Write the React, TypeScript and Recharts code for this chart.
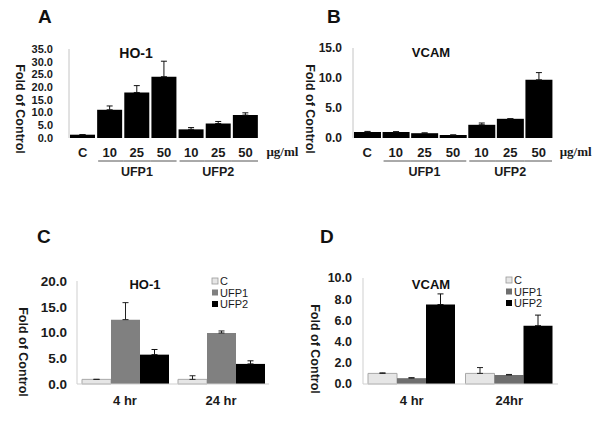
import React from 'react';
import { BarChart, Bar, XAxis, YAxis, ErrorBar } from 'recharts';

// ---------- data ----------
const doseIds = ['C', 'UFP1-10', 'UFP1-25', 'UFP1-50', 'UFP2-10', 'UFP2-25', 'UFP2-50'];
const doseLabels = ['C', '10', '25', '50', '10', '25', '50'];
const doseGroups = ['', 'UFP1', 'UFP1', 'UFP1', 'UFP2', 'UFP2', 'UFP2'];
const ho1DoseValues = [1.3, 11.1, 17.9, 24.1, 3.4, 5.7, 9.0];
const ho1DoseErrors = [0, 1.5, 2.7, 6.1, 0.7, 0.8, 0.9];
const vcamDoseValues = [1.0, 1.0, 0.8, 0.5, 2.2, 3.2, 9.7];
const vcamDoseErrors = [0.1, 0.05, 0.05, 0, 0.3, 0, 1.2];
const ho1DoseTicks = [0, 5, 10, 15, 20, 25, 30, 35];
const vcamDoseTicks = [0, 5, 10, 15];

const seriesNames = ['C', 'UFP1', 'UFP2'];
const timeLabelsC = ['4 hr', '24 hr'];
const timeLabelsD = ['4 hr', '24hr'];
const ho1TimeC = [0.9, 0.9];
const ho1TimeCErr = [0, 0.7];
const ho1TimeUFP1 = [12.5, 9.9];
const ho1TimeUFP1Err = [3.3, 0.4];
const ho1TimeUFP2 = [5.7, 3.9];
const ho1TimeUFP2Err = [1.0, 0.6];
const vcamTimeC = [1.0, 1.0];
const vcamTimeCErr = [0.05, 0.55];
const vcamTimeUFP1 = [0.55, 0.85];
const vcamTimeUFP1Err = [0.05, 0.05];
const vcamTimeUFP2 = [7.5, 5.5];
const vcamTimeUFP2Err = [1.0, 1.0];
const ho1TimeTicks = [0, 5, 10, 15, 20];
const vcamTimeTicks = [0, 2, 4, 6, 8, 10];

// ---------- build rows ----------
const ho1DoseRows = doseIds.map((id, i) => ({
  id, label: doseLabels[i], group: doseGroups[i],
  value: ho1DoseValues[i], err: [0, ho1DoseErrors[i]],
}));
const vcamDoseRows = doseIds.map((id, i) => ({
  id, label: doseLabels[i], group: doseGroups[i],
  value: vcamDoseValues[i], err: [0, vcamDoseErrors[i]],
}));
const ho1TimeRows = timeLabelsC.map((t, i) => ({
  time: t,
  C: ho1TimeC[i], CErr: [0, ho1TimeCErr[i]],
  UFP1: ho1TimeUFP1[i], UFP1Err: [0, ho1TimeUFP1Err[i]],
  UFP2: ho1TimeUFP2[i], UFP2Err: [0, ho1TimeUFP2Err[i]],
}));
const vcamTimeRows = timeLabelsD.map((t, i) => ({
  time: t,
  C: vcamTimeC[i], CErr: [0, vcamTimeCErr[i]],
  UFP1: vcamTimeUFP1[i], UFP1Err: [0, vcamTimeUFP1Err[i]],
  UFP2: vcamTimeUFP2[i], UFP2Err: [0, vcamTimeUFP2Err[i]],
}));

const SANS = 'Liberation Sans, Arial, sans-serif';
const SERIF = 'Liberation Serif, Times New Roman, serif';

const makeDoseTick = (rows: any[], band: number) => (props: any) => {
  const { x, y, payload } = props;
  const i = rows.findIndex((r) => r.id === payload.value);
  if (i < 0) return <g />;
  const row = rows[i];
  const prevSame = i > 0 && rows[i - 1].group === row.group;
  const nextSame = i < rows.length - 1 && rows[i + 1].group === row.group;
  const isMiddle = row.group && prevSame && nextSame;
  const half = band / 2;
  return (
    <g>
      <text x={x} y={y + 19} textAnchor="middle" fontFamily={SANS} fontWeight="bold" fontSize={13} fill="#1a1a1a">
        {row.label}
      </text>
      {row.group ? (
        <line x1={prevSame ? x - half : x - half + 2} x2={nextSame ? x + half : x + half - 1} y1={y + 23} y2={y + 23} stroke="#555" strokeWidth={1} />
      ) : null}
      {isMiddle ? (
        <text x={x} y={y + 38} textAnchor="middle" fontFamily={SANS} fontWeight="bold" fontSize={12.5} fill="#1a1a1a">
          {row.group}
        </text>
      ) : null}
      {i === rows.length - 1 ? (
        <text x={x + 21} y={y + 18} textAnchor="start" fontFamily={SERIF} fontWeight="bold" fontSize={13} fill="#1a1a1a">
          μg/ml
        </text>
      ) : null}
    </g>
  );
};

const DoseChart = ({ rows, ticks, max, left, yWidth, right, top, tickFont, tickMargin }: any) => {
  const width = 300;
  const height = 220;
  const bottom = 41;
  const band = (width - yWidth - right) / rows.length;
  return (
    <div style={{ position: 'absolute', left, top: 0, width, height }}>
      <BarChart width={width} height={height} data={rows} margin={{ top, right, bottom, left: 0 }} barCategoryGap={1}>
        <XAxis dataKey="id" axisLine={false} tickLine={false} tickSize={0} tickMargin={0} interval={0} tick={makeDoseTick(rows, band)} height={bottom} />
        <YAxis
          domain={[0, max]} ticks={ticks} width={yWidth} interval={0}
          tickFormatter={(v: number) => v.toFixed(1)}
          axisLine={{ stroke: '#c4c4c4' }} tickLine={false} tickSize={0} tickMargin={tickMargin}
          tick={{ fontSize: tickFont, fontWeight: 'bold', fill: '#1a1a1a', fontFamily: SANS }}
        />
        <Bar dataKey="value" fill="#000" isAnimationActive={false}>
          <ErrorBar dataKey="err" direction="y" width={3} stroke="#111" strokeWidth={1} />
        </Bar>
      </BarChart>
    </div>
  );
};

const TimeChart = ({ rows, ticks, max, left, yWidth, right, top, tickFont, tickMargin, ufp1Color }: any) => {
  const width = 300;
  const height = 222;
  const bottom = 29;
  return (
    <div style={{ position: 'absolute', left, top: 220, width, height }}>
      <BarChart width={width} height={height} data={rows} margin={{ top, right, bottom, left: 0 }} barCategoryGap={5} barGap={0}>
        <XAxis dataKey="time" axisLine={{ stroke: '#cfcfcf' }} tickLine={false} tickSize={0} tickMargin={12} interval={0} height={bottom}
          tick={{ fontSize: 13, fontWeight: 'bold', fill: '#1a1a1a', fontFamily: SANS }} />
        <YAxis
          domain={[0, max]} ticks={ticks} width={yWidth} interval={0}
          tickFormatter={(v: number) => v.toFixed(1)}
          axisLine={{ stroke: '#cfcfcf' }} tickLine={false} tickSize={0} tickMargin={tickMargin}
          tick={{ fontSize: tickFont, fontWeight: 'bold', fill: '#1a1a1a', fontFamily: SANS }}
        />
        <Bar dataKey="C" name={seriesNames[0]} fill="#e6e6e6" stroke="#a8a8a8" strokeWidth={1} isAnimationActive={false}>
          <ErrorBar dataKey="CErr" direction="y" width={3} stroke="#222" strokeWidth={1} />
        </Bar>
        <Bar dataKey="UFP1" name={seriesNames[1]} fill={ufp1Color} isAnimationActive={false}>
          <ErrorBar dataKey="UFP1Err" direction="y" width={3} stroke="#222" strokeWidth={1} />
        </Bar>
        <Bar dataKey="UFP2" name={seriesNames[2]} fill="#000" isAnimationActive={false}>
          <ErrorBar dataKey="UFP2Err" direction="y" width={3} stroke="#111" strokeWidth={1} />
        </Bar>
      </BarChart>
    </div>
  );
};

const legendFills = ['#e6e6e6', '#808080', '#000'];

const LegendBlock = ({ x, y, ufp1Color }: any) => (
  <g>
    {seriesNames.map((n, i) => (
      <g key={n}>
        <rect x={x} y={y + i * 11.5 - 3} width={6} height={6}
          fill={i === 1 ? ufp1Color : legendFills[i]} stroke={i === 0 ? '#999' : 'none'} strokeWidth={0.8} />
        <text x={x + 8} y={y + i * 11.5 + 4} fontFamily={SANS} fontSize={11} fill="#1a1a1a">{n}</text>
      </g>
    ))}
  </g>
);

const YLabel = ({ x, y }: any) => (
  <text transform={`translate(${x},${y}) rotate(90)`} textAnchor="middle" dominantBaseline="central"
    fontFamily={SANS} fontWeight="bold" fontSize={12.5} fill="#1a1a1a">Fold of Control</text>
);

export default function App() {
  return (
    <div style={{ position: 'absolute', left: 0, top: 0, width: 600, height: 442, background: '#fff', overflow: 'hidden' }}>
      <DoseChart rows={ho1DoseRows} ticks={ho1DoseTicks} max={35} left={0} yWidth={69} right={41} top={49} tickFont={11} tickMargin={16} />
      <DoseChart rows={vcamDoseRows} ticks={vcamDoseTicks} max={15} left={300} yWidth={53} right={47} top={48} tickFont={12} tickMargin={11} />
      <TimeChart rows={ho1TimeRows} ticks={ho1TimeTicks} max={20} left={0} yWidth={77} right={31} top={61} tickFont={13.5} tickMargin={10} ufp1Color="#808080" />
      <TimeChart rows={vcamTimeRows} ticks={vcamTimeTicks} max={10} left={300} yWidth={63} right={42} top={58} tickFont={12.5} tickMargin={11} ufp1Color="#6e6e6e" />
      <svg width={600} height={442} style={{ position: 'absolute', left: 0, top: 0, pointerEvents: 'none' }}>
        <g fontFamily={SANS} fontWeight="bold" fill="#111">
          <text x={38} y={23} fontSize={19}>A</text>
          <text x={327} y={23} fontSize={19}>B</text>
          <text x={37} y={243} fontSize={19}>C</text>
          <text x={320} y={243} fontSize={19}>D</text>
          <text x={136} y={58} fontSize={14} textAnchor="middle">HO-1</text>
          <text x={431} y={57} fontSize={13} textAnchor="middle">VCAM</text>
          <text x={145} y={289} fontSize={13} textAnchor="middle">HO-1</text>
          <text x={431} y={289} fontSize={13} textAnchor="middle">VCAM</text>
        </g>
        <YLabel x={20} y={109} />
        <YLabel x={310} y={109} />
        <YLabel x={23} y={352} />
        <YLabel x={315} y={349} />
        <LegendBlock x={212} y={281} ufp1Color="#808080" />
        <LegendBlock x={506} y={280} ufp1Color="#6e6e6e" />
      </svg>
    </div>
  );
}
